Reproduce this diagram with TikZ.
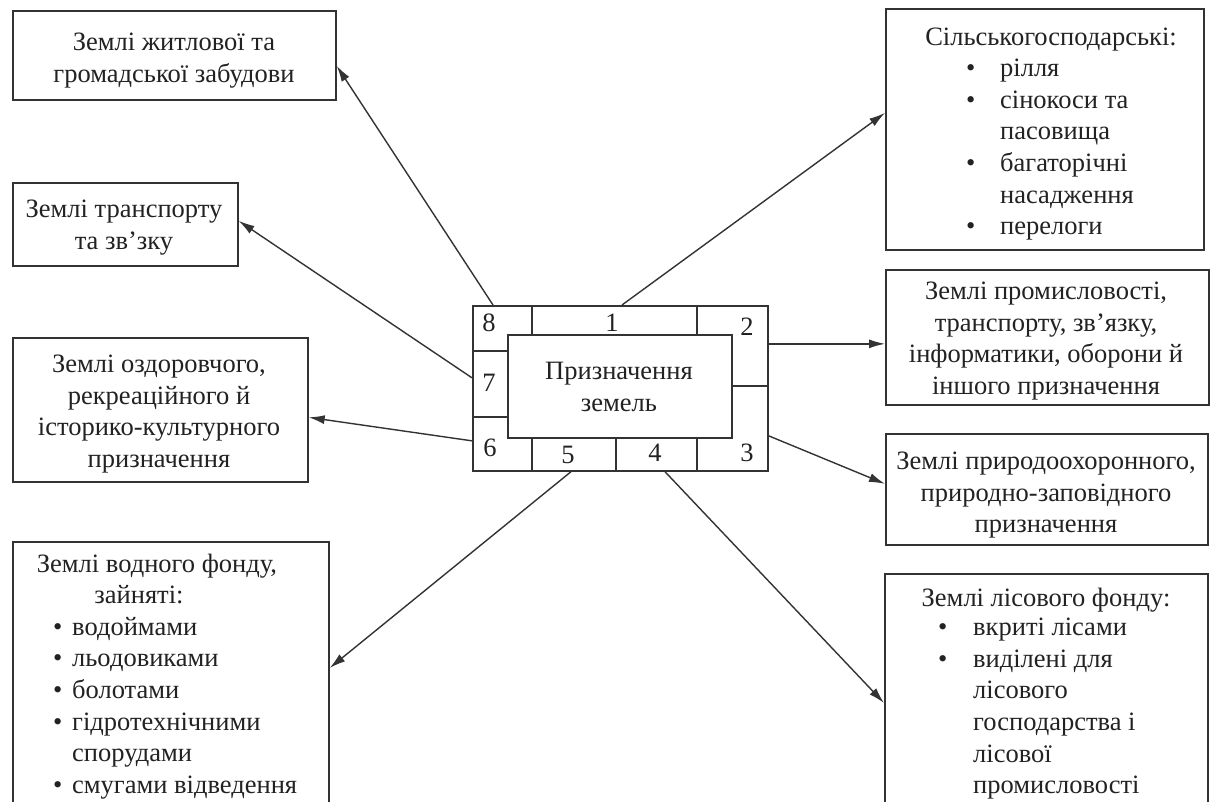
\documentclass[tikz,border=0pt]{standalone}
\usepackage{fontspec}
\setmainfont{Liberation Serif}
\usetikzlibrary{arrows.meta}
\definecolor{ln}{HTML}{333333}
\definecolor{tx}{HTML}{222222}
\newcommand\fsz{\fontsize{26.5pt}{31.6pt}\selectfont}
\newcommand\blt[1]{\makebox[#1][l]{\textbullet}}
\begin{document}
\begin{tikzpicture}[x=1pt,y=-1pt,
  box/.style={draw=ln, line width=1.7pt, inner sep=0pt, anchor=north west},
  txt/.style={font=\fsz, text=tx, align=center, inner sep=0pt, anchor=north, execute at begin node=\strut},
  lst/.style={font=\fsz, text=tx, align=left, inner sep=0pt, anchor=north west, execute at begin node=\strut},
  num/.style={font=\fsz, text=tx, inner sep=0pt},
  arr/.style={draw=ln, line width=1.4pt, -{Latex[length=16pt,width=9pt]}}]
\useasboundingbox (0,0) rectangle (1211,802);
\fill[white] (0,0) rectangle (1211,802);
\clip (0,0) rectangle (1211,802);

% outer boxes
\node[box, minimum width=323pt, minimum height=89pt] (A) at (12,10) {};
\node[box, minimum width=225pt, minimum height=83pt] (B) at (12,182) {};
\node[box, minimum width=295pt, minimum height=144pt] (C) at (12,337) {};
\node[box, minimum width=316pt, minimum height=300pt] (D) at (12,541) {};
\node[box, minimum width=318pt, minimum height=241pt] (E) at (885,8) {};
\node[box, minimum width=323pt, minimum height=135pt] (F) at (885,269) {};
\node[box, minimum width=322pt, minimum height=111pt] (G) at (885,433) {};
\node[box, minimum width=323pt, minimum height=300pt] (H) at (884,573) {};

% texts
\node[txt] (At) at (174,33) {Землі житлової та\\громадської забудови};
\node[txt] (Bt) at (124,200) {Землі транспорту\\та зв’зку};
\node[txt] (Ct) at (159,355) {Землі оздоровчого,\\рекреаційного й\\історико-культурного\\призначення};
\node[txt] (Dt1) at (157,550) {Землі водного фонду,};
\node[txt] (Dt2) at (139,581) {зайняті:};
\node[lst] (Dl) at (53,617) {\blt{19pt}водоймами\\\blt{19pt}льодовиками\\\blt{19pt}болотами\\\blt{19pt}гідротехнічними\\\hspace*{19pt}спорудами\\\blt{19pt}смугами відведення};
\node[txt] (Et) at (1051,23) {Сільськогосподарські:};
\node[lst] (El) at (966,59) {\blt{34pt}рілля\\\blt{34pt}сінокоси та\\\hspace*{34pt}пасовища\\\blt{34pt}багаторічні\\\hspace*{34pt}насадження\\\blt{34pt}перелоги};
\node[txt] (Ft) at (1046,282) {Землі промисловості,\\транспорту, зв’язку,\\інформатики, оборони й\\іншого призначення};
\node[txt] (Gt) at (1046,452) {Землі природоохоронного,\\природно-заповідного\\призначення};
\node[txt] (Ht) at (1046,584) {Землі лісового фонду:};
\node[lst] (Hl) at (938,618) {\blt{35pt}вкриті лісами\\\blt{35pt}виділені для\\\hspace*{35pt}лісового\\\hspace*{35pt}господарства і\\\hspace*{35pt}лісової\\\hspace*{35pt}промисловості};

% central block
\node[box, minimum width=295pt, minimum height=165pt] (out) at (472,305) {};
\node[box, minimum width=224pt, minimum height=103pt] (inn) at (507,334) {};
\node[txt] (it) at (619,362) {Призначення\\земель};
\draw[draw=ln, line width=1.7pt]
  (532,305) -- (532,334) (697,305) -- (697,334)
  (532,437) -- (532,470) (616,437) -- (616,470) (697,437) -- (697,470)
  (472,351) -- (507,351) (472,417) -- (507,417)
  (731,386) -- (767,386);
\node[num] (n8) at (489,323) {8};
\node[num] (n1) at (612,323) {1};
\node[num] (n2) at (747,327) {2};
\node[num] (n7) at (489,383) {7};
\node[num] (n6) at (490,448) {6};
\node[num] (n5) at (568,455) {5};
\node[num] (n4) at (655,453) {4};
\node[num] (n3) at (747,453) {3};

% connectors
\draw[arr] ([xshift=21pt]out.north west) -- ([yshift=-10.5pt]A.east);
\draw[arr] ([yshift=10.5pt]out.west) -- ([yshift=3.5pt]B.east);
\draw[arr] ([yshift=-52.5pt]out.west) -- ([yshift=-7.5pt]C.east);
\draw[arr] ([xshift=99pt]out.south west) -- ([yshift=-127pt]D.north east);
\draw[arr] ([xshift=193pt]out.south west) -- ([yshift=-130pt]H.north west);
\draw[arr] ([yshift=-47.5pt]out.east) -- ([yshift=5.5pt]G.west);
\draw[arr] ([yshift=44.5pt]out.east) -- ([yshift=-6.5pt]F.west);
\draw[arr] ([xshift=150pt]out.north west) -- ([yshift=16.5pt]E.west);
\end{tikzpicture}
\end{document}
